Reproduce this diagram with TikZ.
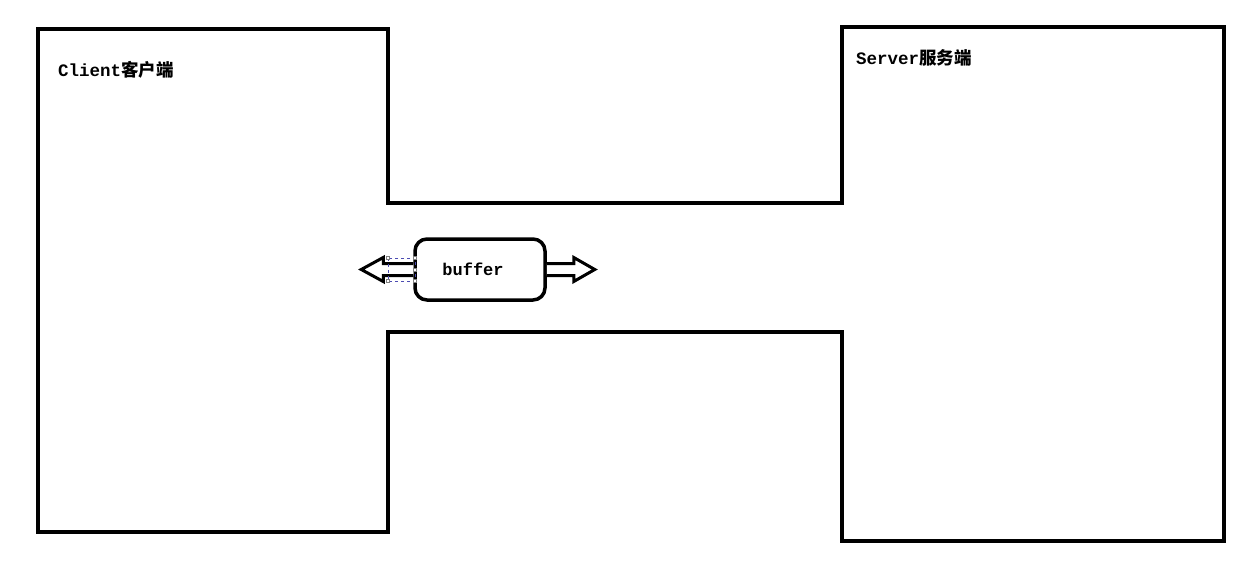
\documentclass[tikz,border=0pt]{standalone}
\usepackage{fontspec}
\setmonofont{Liberation Mono}
\newfontfamily\cjk{Noto Sans CJK SC}
\begin{document}
\begin{tikzpicture}[x=1pt,y=-1pt,
  wall/.style={line width=4pt, line cap=rect, line join=miter},
  lbl/.style={anchor=west, inner sep=0pt, font=\fontsize{17.5}{20}\selectfont\ttfamily\bfseries},
  bufbox/.style={draw, line width=3.5pt, rounded corners=12pt, minimum width=130pt, minimum height=61pt, inner sep=0pt},
  dblarrow/.style={draw, line width=3pt, line join=miter, fill=white},
  sel/.style={draw=blue!40!gray, dashed, line width=0.8pt}
]
\useasboundingbox (0,0) rectangle (1247,580);
% client outline
\draw[wall] (388,203) -- (388,29) -- (38,29) -- (38,532) -- (388,532) -- (388,332);
% server outline
\draw[wall] (842,203) -- (842,27) -- (1224,27) -- (1224,541) -- (842,541) -- (842,332);
% channel
\draw[wall] (388,203) -- (842,203);
\draw[wall] (388,332) -- (842,332);
% labels
\node[lbl] (client) at (58,70) {Client{\cjk 客户端}};
\node[lbl] (server) at (856,58) {Server{\cjk 服务端}};
% buffer
\node[bufbox] (buffer) at (480,269.5) {};
\node[font=\fontsize{17}{20}\selectfont\ttfamily\bfseries] (buftext) at (473,269) {buffer};
% right arrow
\draw[dblarrow] (buffer.east) ++(0,-6) -- ++(27,0) -- ++(0,-6) -- ++(21,12) -- ++(-21,12) -- ++(0,-6) -- ++(-27,0);
% left arrow
\draw[dblarrow] (buffer.west) ++(0,-6) -- ++(-30,0) -- ++(0,-6) -- ++(-22,12) -- ++(22,12) -- ++(0,-6) -- ++(30,0);
% selection frame around left arrow
\draw[sel] (388,258) rectangle (415,281);
\foreach \p in {(388,258),(388,281),(415,258),(415,269.5),(415,281)}
  \draw[gray, fill=white, line width=0.5pt] \p ++(-1.5,-1.5) rectangle ++(3,3);
\end{tikzpicture}
\end{document}
